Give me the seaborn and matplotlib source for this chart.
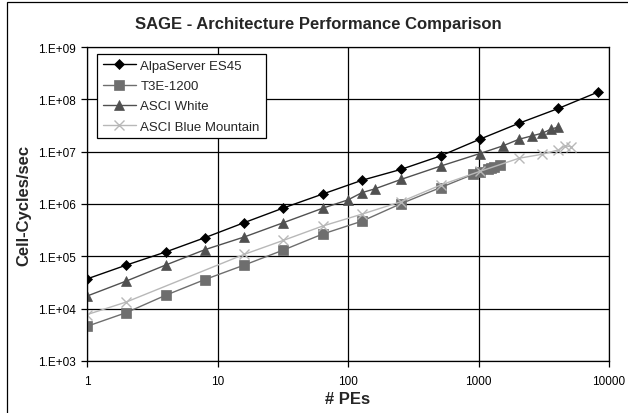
import matplotlib
matplotlib.use("Agg")
import matplotlib.pyplot as plt
import matplotlib.ticker as mticker
from matplotlib.patches import Rectangle
import seaborn as sns
import pandas as pd

es45_pes = [1, 2, 4, 8, 16, 32, 64, 128, 256, 512, 1024, 2048, 4096, 8192]
es45_vals = [3.7e4, 6.8e4, 1.21e5, 2.27e5, 4.4e5, 8.4e5, 1.55e6, 2.84e6, 4.6e6,
             8.3e6, 1.73e7, 3.5e7, 6.7e7, 1.37e8]

t3e_pes = [1, 2, 4, 8, 16, 32, 64, 128, 256, 512, 912, 1024, 1184, 1248, 1312, 1472]
t3e_vals = [4.6e3, 8.4e3, 1.8e4, 3.6e4, 6.8e4, 1.32e5, 2.67e5, 4.7e5, 1.02e6,
            2.06e6, 3.7e6, 4.0e6, 4.6e6, 4.8e6, 5.2e6, 5.5e6]

white_pes = [1, 2, 4, 8, 16, 32, 64, 100, 128, 160, 256, 512, 1024, 1536, 2048,
             2560, 3072, 3584, 4096]
white_vals = [1.74e4, 3.37e4, 6.8e4, 1.34e5, 2.34e5, 4.4e5, 8.3e5, 1.2e6, 1.65e6,
              1.94e6, 2.96e6, 5.3e6, 9.2e6, 1.29e7, 1.73e7, 2.0e7, 2.25e7, 2.68e7,
              2.97e7]

blue_pes = [1, 2, 16, 32, 64, 128, 256, 512, 1024, 2048, 3072, 4096, 4608, 5120]
blue_vals = [7.7e3, 1.34e4, 1.09e5, 2.02e5, 3.8e5, 6.4e5, 1.11e6, 2.3e6, 4.2e6,
             7.5e6, 8.9e6, 1.08e7, 1.29e7, 1.25e7]

series_names = ["AlpaServer ES45", "T3E-1200", "ASCI White", "ASCI Blue Mountain"]
y_ticks = [1e3, 1e4, 1e5, 1e6, 1e7, 1e8, 1e9]
y_tick_labels = ["1.E+03", "1.E+04", "1.E+05", "1.E+06", "1.E+07", "1.E+08", "1.E+09"]
x_ticks = [1, 10, 100, 1000, 10000]
x_tick_labels = ["1", "10", "100", "1000", "10000"]

sns.set_style("white")
plt.rcParams["font.family"] = ["Liberation Sans", "DejaVu Sans"]

fig = plt.figure(figsize=(6.28, 4.14), dpi=100)
ax = fig.add_axes([87 / 628, 1 - 362 / 414, (609 - 87) / 628, (362 - 48) / 414])

styles = [
    (es45_pes, es45_vals, "#000000", "D", 5.5),
    (t3e_pes, t3e_vals, "#6e6e6e", "s", 6.5),
    (white_pes, white_vals, "#505050", "^", 7),
    (blue_pes, blue_vals, "#b8b8b8", "x", 6.5),
]
for name, (xs, ys, col, mk, ms) in zip(series_names, styles):
    df = pd.DataFrame({"pes": xs, "val": ys})
    sns.lineplot(data=df, x="pes", y="val", ax=ax, color=col, marker=mk,
                 markersize=ms, markeredgecolor=col, markerfacecolor=col,
                 markeredgewidth=1.0 if mk == "x" else 0.5, linewidth=1.0,
                 label=name)

ax.set_xscale("log")
ax.set_yscale("log")
ax.set_xlim(1, 10000)
ax.set_ylim(1e3, 1e9)
ax.set_xticks(x_ticks)
ax.set_xticklabels(x_tick_labels)
ax.set_yticks(y_ticks)
ax.set_yticklabels(y_tick_labels)
ax.xaxis.set_minor_locator(mticker.NullLocator())
ax.yaxis.set_minor_locator(mticker.NullLocator())
ax.grid(True, which="major", color="#000000", linewidth=0.9)
ax.set_axisbelow(True)
for s in ax.spines.values():
    s.set_color("#000000")
    s.set_linewidth(0.9)
ax.tick_params(axis="both", which="major", direction="out", length=4, width=0.9,
               color="#000000", labelsize=8.5, labelcolor="#000000", pad=4,
               bottom=True, left=True)
ax.tick_params(axis="x", pad=6)

ax.set_xlabel("# PEs", fontsize=12, fontweight="bold", labelpad=3)
ax.set_ylabel("Cell-Cycles/sec", fontsize=12, fontweight="bold", labelpad=5)
fig.text(318 / 628, 1 - 24 / 414, "SAGE - Architecture Performance Comparison",
         ha="center", va="center", fontsize=12, fontweight="bold")

leg = ax.legend(loc="upper left", bbox_to_anchor=(0.019, 0.978), borderaxespad=0,
                fontsize=9.5, frameon=True, fancybox=False, framealpha=1,
                edgecolor="#000000", borderpad=0.45, labelspacing=0.6,
                handlelength=2.5, handletextpad=0.35)
leg.get_frame().set_linewidth(0.9)

fig.patches.append(Rectangle((7 / 628, -0.05), 1.1, 1.05 - 3 / 414,
                             transform=fig.transFigure, fill=False,
                             edgecolor="#000000", linewidth=0.9))

fig.savefig("out.png", dpi=100)
